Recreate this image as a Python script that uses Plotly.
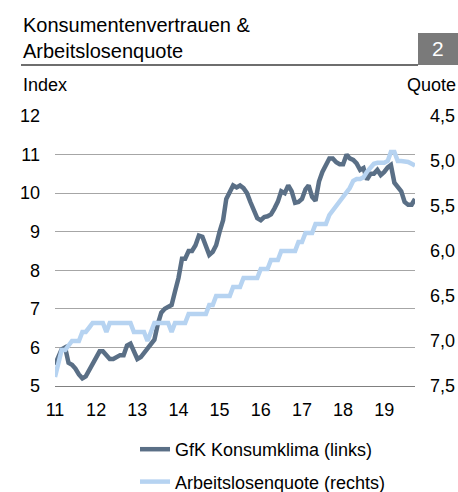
import plotly.graph_objects as go
import pandas as pd

# ---- data ----
months = pd.date_range("2011-01-01", periods=106, freq="MS").strftime("%Y-%m-%d").tolist()

gfk_konsumklima = [5.55, 5.8, 5.95, 6.0, 5.6, 5.55, 5.45, 5.3, 5.2, 5.25,
                   5.4, 5.55, 5.7, 5.9, 5.9, 5.8, 5.7, 5.7, 5.75, 5.8,
                   5.8, 6.05, 6.1, 5.9, 5.7, 5.75, 5.85, 5.95, 6.05, 6.2,
                   6.6, 6.9, 7.0, 7.05, 7.1, 7.45, 7.8, 8.3, 8.3, 8.5,
                   8.5, 8.65, 8.9, 8.87, 8.6, 8.4, 8.48, 8.65, 9.0, 9.3,
                   9.85, 10.05, 10.2, 10.15, 10.2, 10.13, 10.0, 9.77, 9.55, 9.35,
                   9.3, 9.38, 9.4, 9.45, 9.6, 9.78, 10.05, 10.0, 10.2, 10.05,
                   9.75, 9.77, 9.85, 10.1, 10.2, 9.9, 9.8, 10.3, 10.55, 10.75,
                   10.9, 10.9, 10.8, 10.75, 10.75, 11.0, 10.9, 10.86, 10.77, 10.6,
                   10.65, 10.35, 10.5, 10.5, 10.6, 10.47, 10.55, 10.67, 10.73, 10.27,
                   10.17, 10.05, 9.77, 9.7, 9.7, 9.85]

arbeitslosenquote = [7.4, 7.25, 7.1, 7.1, 7.05, 7.0, 7.0, 7.0, 6.9, 6.9,
                     6.85, 6.8, 6.8, 6.8, 6.8, 6.9, 6.8, 6.8, 6.8, 6.8,
                     6.8, 6.8, 6.8, 6.9, 6.9, 6.9, 6.9, 7.0, 6.9, 6.8,
                     6.8, 6.8, 6.8, 6.8, 6.9, 6.8, 6.8, 6.8, 6.8, 6.7,
                     6.7, 6.7, 6.7, 6.7, 6.7, 6.6, 6.6, 6.5, 6.5, 6.5,
                     6.5, 6.5, 6.4, 6.4, 6.4, 6.3, 6.3, 6.3, 6.3, 6.3,
                     6.2, 6.2, 6.2, 6.1, 6.1, 6.1, 6.0, 6.0, 6.0, 6.0,
                     6.0, 5.9, 5.9, 5.8, 5.8, 5.8, 5.7, 5.7, 5.7, 5.7,
                     5.6, 5.55, 5.5, 5.45, 5.4, 5.35, 5.3, 5.22, 5.2, 5.2,
                     5.18, 5.12, 5.07, 5.03, 5.02, 5.02, 5.02, 5.0, 4.9, 4.9,
                     5.0, 5.0, 5.0, 5.01, 5.03, 5.05]

year_ticks = [f"{y}-01-01" for y in range(2011, 2020)]
year_labels = ["11", "12", "13", "14", "15", "16", "17", "18", "19"]
left_ticks = [5, 6, 7, 8, 9, 10, 11, 12]
right_ticks = [4.5, 5.0, 5.5, 6.0, 6.5, 7.0, 7.5]
right_labels = ["4,5", "5,0", "5,5", "6,0", "6,5", "7,0", "7,5"]

DARK = "#5A6F86"
LIGHT = "#B6D3F1"
FONT = "Liberation Sans, Arial, sans-serif"

fig = go.Figure()
fig.add_trace(go.Scatter(x=months, y=gfk_konsumklima, mode="lines",
                         name="GfK Konsumklima (links)", legendgroup="a",
                         line=dict(color=DARK, width=4.5), yaxis="y"))
fig.add_trace(go.Scatter(x=months, y=arbeitslosenquote, mode="lines",
                         name="Arbeitslosenquote (rechts)", legendgroup="b",
                         line=dict(color=LIGHT, width=4.5), yaxis="y2"))

L, R, T, B = 55, 43, 116, 106
W, H = 458, 492
PW, PH = W - L - R, H - T - B


def px_x(px):
    return (px - L) / PW


def px_y(py):
    return (H - B - py) / PH


fig.update_layout(
    width=W, height=H, autosize=False,
    margin=dict(l=L, r=R, t=T, b=B, pad=0, autoexpand=False),
    paper_bgcolor="white", plot_bgcolor="white",
    font=dict(family=FONT, size=18, color="#000000"),
    xaxis=dict(type="date", range=["2011-01-01", "2019-10-01"],
               tickvals=year_ticks, ticktext=year_labels,
               showgrid=False, zeroline=False, showline=True,
               linecolor="#808080", linewidth=1, ticks="",
               ticklabelstandoff=7, tickfont=dict(size=18)),
    yaxis=dict(range=[5, 12], tickvals=left_ticks, showgrid=True,
               gridcolor="#A6A6A6", gridwidth=1, zeroline=False,
               showline=False, ticks="", ticklabelstandoff=14,
               tickfont=dict(size=18)),
    yaxis2=dict(overlaying="y", side="right", range=[7.5, 4.5],
                tickvals=right_ticks, ticktext=right_labels,
                showgrid=False, zeroline=False, showline=False, ticks="",
                ticklabelstandoff=14, tickfont=dict(size=18)),
    legend=dict(x=px_x(135), y=px_y(431), xanchor="left", yanchor="top",
                traceorder="grouped", tracegroupgap=6,
                font=dict(size=18), bgcolor="rgba(0,0,0,0)"),
    showlegend=True,
)

fig.add_shape(type="line", xref="paper", yref="paper",
              x0=px_x(21), x1=px_x(418), y0=px_y(65), y1=px_y(65),
              line=dict(color="#6E6E6E", width=2))
fig.add_shape(type="rect", xref="paper", yref="paper",
              x0=px_x(418), x1=px_x(458), y0=px_y(65), y1=px_y(33),
              fillcolor="#7A7A7A", line=dict(width=0))

ann = [
    dict(text="Konsumentenvertrauen &", x=px_x(21), y=px_y(25), xanchor="left",
         yanchor="middle", font=dict(size=20)),
    dict(text="Arbeitslosenquote", x=px_x(21), y=px_y(51), xanchor="left",
         yanchor="middle", font=dict(size=20)),
    dict(text="2", x=px_x(438), y=px_y(49), xanchor="center", yanchor="middle",
         font=dict(size=21, color="white")),
    dict(text="Index", x=px_x(21), y=px_y(85), xanchor="left", yanchor="middle",
         font=dict(size=18)),
    dict(text="Quote", x=px_x(458), y=px_y(85), xanchor="right", yanchor="middle",
         font=dict(size=18)),
]
for a in ann:
    fig.add_annotation(xref="paper", yref="paper", showarrow=False, **a)

fig.write_html("out.html", config={"displayModeBar": False},
               post_script="document.body.style.margin='0';document.body.style.padding='0';")
